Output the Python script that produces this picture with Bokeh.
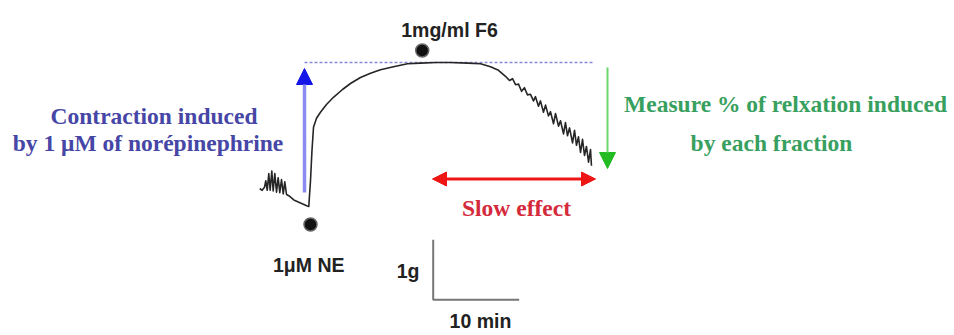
from bokeh.plotting import figure
from bokeh.models import Range1d, Arrow, NormalHead
from bokeh.core.properties import value
from bokeh.embed import file_html
from bokeh.resources import INLINE

# ---- data (time in min, tension in g) ----
trace_t = [0.03, 0.31, 0.58, 0.73, 0.90, 1.08, 1.24, 1.43, 1.59, 1.78, 1.98, 2.17, 2.36, 2.56,
           2.76, 2.94, 3.14, 3.41, 3.99, 4.77, 5.55, 5.73,
           5.93, 6.10, 6.28, 6.63, 7.09, 7.79, 8.60, 9.65, 10.58, 11.74, 12.91, 14.07, 15.58,
           17.21, 18.72, 20.47, 22.21, 24.19, 25.70, 26.86, 27.79, 28.60,
           29.07, 29.42, 29.77, 30.12, 30.47, 30.81, 31.16, 31.51, 31.86, 32.09, 32.44, 32.67,
           33.02, 33.26, 33.60, 33.84, 34.19, 34.42, 34.77, 35.00, 35.35, 35.58, 35.81, 36.05,
           36.40, 36.63, 36.86, 37.09, 37.33, 37.56, 37.79, 38.02, 38.26, 38.49, 38.60]
trace_g = [0.30, 0.27, 0.32, 0.43, 0.27, 0.55, 0.27, 0.59, 0.26, 0.55, 0.24, 0.48, 0.23, 0.45,
           0.21, 0.41, 0.20, 0.18, 0.11, 0.06, 0.01, 0.00,
           0.43, 0.93, 1.32, 1.47, 1.57, 1.70, 1.82, 1.95, 2.05, 2.15, 2.22, 2.28, 2.33,
           2.38, 2.39, 2.40, 2.40, 2.39, 2.38, 2.33, 2.27, 2.17,
           2.10, 2.13, 2.03, 2.04, 1.92, 1.98, 1.86, 1.87, 1.76, 1.83, 1.67, 1.76,
           1.57, 1.69, 1.51, 1.58, 1.38, 1.55, 1.34, 1.43, 1.21, 1.40, 1.18, 1.31,
           1.06, 1.27, 1.02, 1.16, 0.90, 1.12, 0.85, 1.00, 0.74, 0.95, 0.68]

event_t = [5.93, 18.92]
event_labels = ["1\u03bcM NE", "1mg/ml F6"]

scale_min = 10   # horizontal scale bar (min)
scale_g = 1      # vertical scale bar (g)

blue_lines = ["Contraction induced", "by 1 \u03bcM of nor\u00e9pinephrine"]
green_lines = ["Measure % of relxation induced", "by each fraction"]
red_label = "Slow effect"

# ---- layout helpers: picture pixel -> data units ----
PX_PER_MIN = 8.6
PX_PER_G = 60.0
def tx(X):
    return (X - 259.0) / PX_PER_MIN
def fy(Y):
    return (206.0 - Y) / PX_PER_G

W, H = 954, 335
p = figure(width=W, height=H, output_backend="svg", toolbar_location=None,
           x_range=Range1d(tx(0), tx(W)), y_range=Range1d(fy(H), fy(0)),
           min_border=0)
p.axis.visible = False
p.grid.visible = False
p.outline_line_color = None
p.background_fill_color = "white"

peak = max(trace_g)
base = min(trace_g)

# dotted max-contraction level
p.line([tx(304), tx(592)], [peak, peak], line_color="#8a8ad6", line_width=1.6, line_dash="3 2")

# trace
p.line(trace_t, trace_g, line_color="#262626", line_width=1.6, line_join="round")

# event dots
p.scatter(event_t, [fy(224), fy(50)], size=13, fill_color="#111111", line_color="#666666", line_width=1.5)

sans = value("Liberation Sans")
serif = value("Liberation Serif")

p.text([event_t[0] - 0.2, tx(449)], [fy(264), fy(29)], text=event_labels, text_font=sans,
       text_font_size="19.5px", text_font_style="bold", text_color="#222222",
       text_align="center", text_baseline="alphabetic")

# blue arrow (contraction)
p.add_layout(Arrow(end=NormalHead(size=16, fill_color="#1515e8", line_color="#1515e8"),
                   x_start=tx(304), y_start=base + fy(192), x_end=tx(304), y_end=fy(68),
                   line_color="#8c8cf0", line_width=3.5))
# green arrow (relaxation)
p.add_layout(Arrow(end=NormalHead(size=16, fill_color="#22bb22", line_color="#22bb22"),
                   x_start=tx(607), y_start=fy(67), x_end=tx(607), y_end=fy(168),
                   line_color="#6ad86a", line_width=2))
# red double arrow (slow effect)
p.add_layout(Arrow(start=NormalHead(size=14, fill_color="#ee1515", line_color="#ee1515"),
                   end=NormalHead(size=14, fill_color="#ee1515", line_color="#ee1515"),
                   x_start=tx(432), y_start=fy(178.5), x_end=tx(595), y_end=fy(178.5),
                   line_color="#ee1515", line_width=3))

# annotations
p.text([tx(153.5), tx(147.5)], [fy(115), fy(142)], text=blue_lines, text_font=serif,
       text_font_size="23.5px", text_font_style="bold", text_color="#4646a6",
       text_align="center", text_baseline="alphabetic")
p.text([tx(785), tx(771)], [fy(103), fy(142)], text=green_lines, text_font=serif,
       text_font_size="23.5px", text_font_style="bold", text_color="#38a05e",
       text_align="center", text_baseline="alphabetic")
p.text([tx(516)], [fy(207)], text=[red_label], text_font=serif,
       text_font_size="23.5px", text_font_style="bold", text_color="#d42a3c",
       text_align="center", text_baseline="alphabetic")

# scale bar
sx0, sy0 = tx(432.7), fy(299.3)
p.line([sx0, sx0, sx0 + scale_min], [sy0 + scale_g, sy0, sy0], line_color="#777777", line_width=2)
p.text([tx(419)], [fy(270)], text=["%dg" % scale_g], text_font=sans, text_font_size="19.5px",
       text_font_style="bold", text_color="#222222", text_align="right", text_baseline="alphabetic")
p.text([sx0 + scale_min / 2 + 0.5], [fy(309)], text=["%d min" % scale_min], text_font=sans,
       text_font_size="19.5px", text_font_style="bold", text_color="#222222",
       text_align="center", text_baseline="top")

open("out.html", "w").write(file_html(p, INLINE))
